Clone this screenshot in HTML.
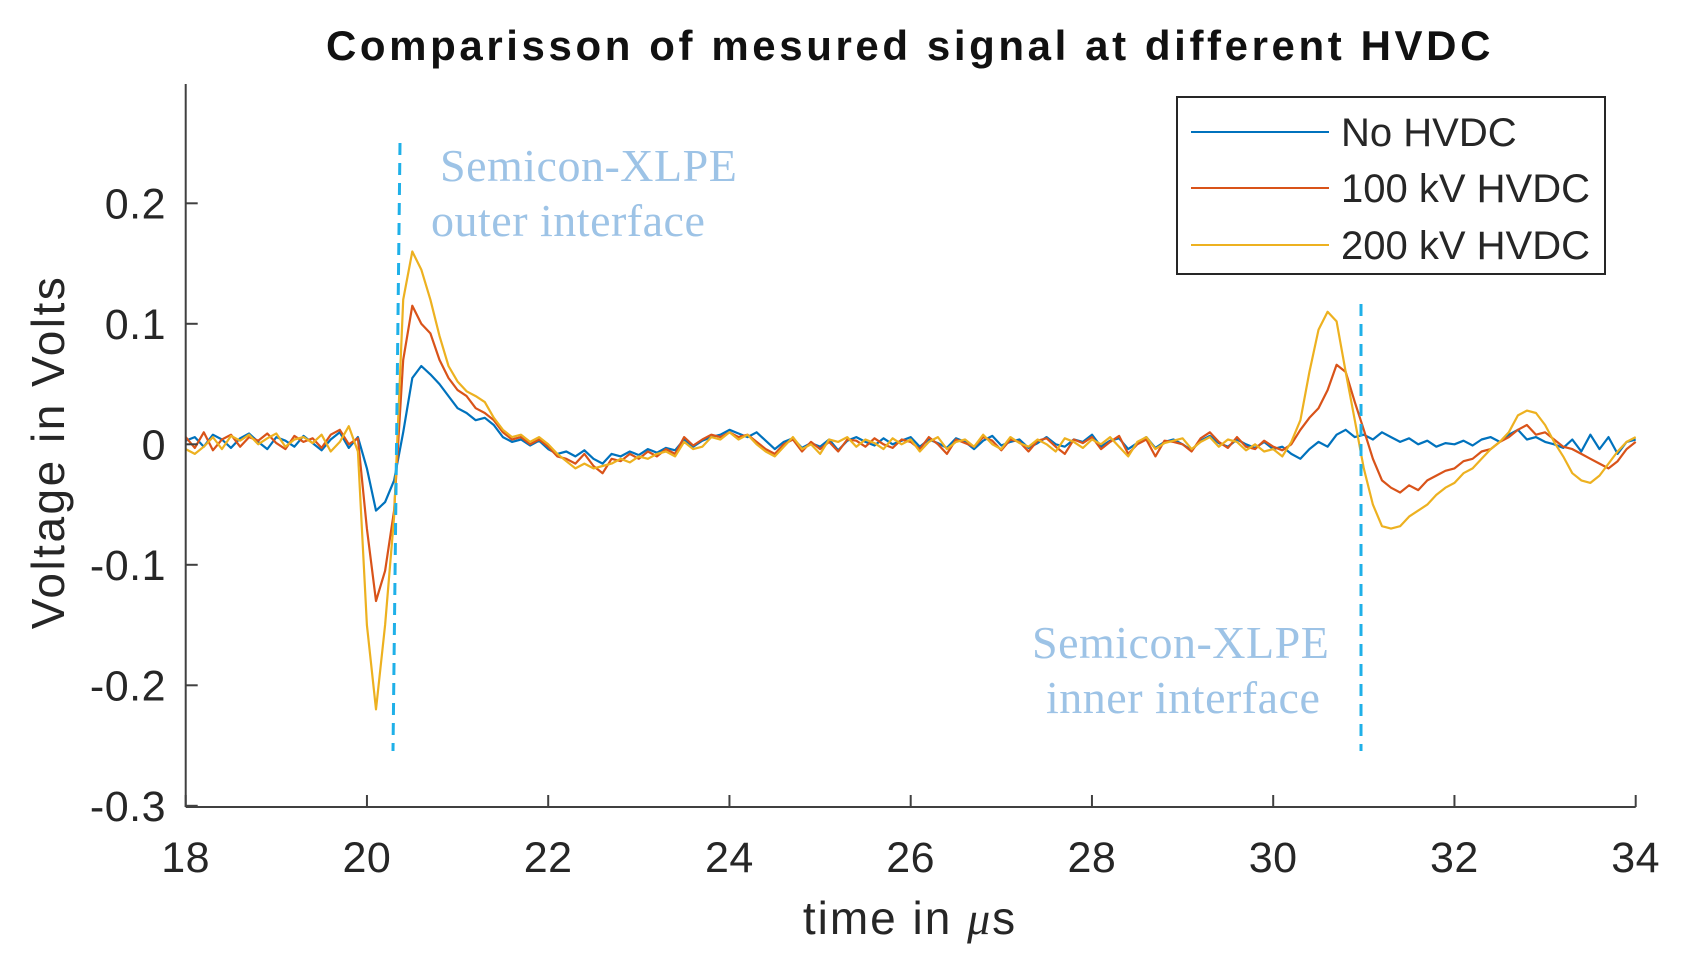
<!DOCTYPE html>
<html><head><meta charset="utf-8"><style>
html,body{margin:0;padding:0;background:#fff;}
svg{display:block;font-family:"Liberation Sans",Arial,sans-serif;}
</style></head><body>
<svg id="chart" width="1683" height="969" viewBox="0 0 1683 969" xmlns="http://www.w3.org/2000/svg">
<rect width="1683" height="969" fill="#fff"/>
<text x="910" y="60" text-anchor="middle" font-size="42" font-weight="bold" fill="#111" letter-spacing="3.6">Comparisson of mesured signal at different HVDC</text>
<g id="plot"></g>
<g id="axes"></g>
<text x="440" y="181" font-family="'Liberation Serif',serif" font-size="46" fill="#9dc3e6" letter-spacing="0.5">Semicon-XLPE</text>
<text x="431" y="236" font-family="'Liberation Serif',serif" font-size="46" fill="#9dc3e6" letter-spacing="0.5">outer interface</text>
<text x="1032" y="658" font-family="'Liberation Serif',serif" font-size="46" fill="#9dc3e6" letter-spacing="0.5">Semicon-XLPE</text>
<text x="1046" y="713" font-family="'Liberation Serif',serif" font-size="46" fill="#9dc3e6" letter-spacing="0.5">inner interface</text>
<line x1="400" y1="143" x2="393" y2="751" stroke="#1fb0e8" stroke-width="3" stroke-dasharray="12,8"/>
<line x1="1361" y1="304" x2="1361" y2="751" stroke="#1fb0e8" stroke-width="3" stroke-dasharray="12,8"/>
<g>
<rect x="1177" y="97" width="428" height="177" fill="#fff" stroke="#262626" stroke-width="2"/>
<line x1="1191" y1="132" x2="1329" y2="132" stroke="#0072BD" stroke-width="2"/>
<text x="1341" y="146" font-size="40" fill="#262626">No HVDC</text>
<line x1="1191" y1="188" x2="1329" y2="188" stroke="#D95319" stroke-width="2"/>
<text x="1341" y="202" font-size="40" fill="#262626">100 kV HVDC</text>
<line x1="1191" y1="245" x2="1329" y2="245" stroke="#EDB120" stroke-width="2"/>
<text x="1341" y="259" font-size="40" fill="#262626">200 kV HVDC</text>
</g>
</svg>
<script>
const xStart = 18, xStep = 0.1;
const xTicks = [18,20,22,24,26,28,30,32,34];
const yTicks = [-0.3,-0.2,-0.1,0,0.1,0.2];
const yTickLabels = ["-0.3","-0.2","-0.1","0","0.1","0.2"];
const seriesNames = ["No HVDC","100 kV HVDC","200 kV HVDC"];
const noHvdc = [0.003,0.006,-0.002,0.008,0.004,-0.003,0.005,0.009,0.002,-0.004,0.006,0.003,-0.002,0.007,0.001,-0.005,0.004,0.010,-0.003,0.006,
-0.020,-0.055,-0.048,-0.030,0.010,0.055,0.065,0.058,0.050,0.040,0.030,0.026,0.020,0.022,0.016,0.006,0.002,0.004,-0.001,0.003,
-0.004,-0.008,-0.006,-0.010,-0.005,-0.012,-0.016,-0.008,-0.010,-0.006,-0.009,-0.004,-0.007,-0.003,-0.005,0.004,-0.002,0.003,0.006,0.008,
0.012,0.009,0.006,0.010,0.003,-0.004,0.002,0.005,-0.003,0.001,-0.002,0.004,-0.005,0.003,0.006,0.002,-0.001,0.005,0.000,0.003,
0.006,-0.002,0.004,0.001,-0.003,0.005,0.002,-0.004,0.003,0.007,-0.001,0.002,0.004,-0.003,0.001,0.006,0.000,-0.002,0.004,0.002,
0.008,-0.002,0.003,0.005,-0.004,0.001,0.006,-0.003,0.002,0.004,0.000,-0.005,0.003,0.007,0.001,-0.002,0.004,0.000,-0.003,0.002,
-0.004,-0.002,-0.008,-0.012,-0.004,0.002,-0.002,0.008,0.012,0.006,0.008,0.004,0.010,0.006,0.002,0.005,0.000,0.003,-0.002,0.001,
0.000,0.003,-0.001,0.004,0.006,0.002,0.008,0.012,0.004,0.006,0.002,0.000,-0.003,0.004,-0.006,0.008,-0.004,0.006,-0.008,0.002,
0.004];
const hvdc100 = [0.006,-0.003,0.010,-0.005,0.004,0.008,-0.002,0.006,0.003,0.009,0.001,-0.004,0.007,0.002,0.005,-0.003,0.008,0.012,0.000,0.005,
-0.070,-0.130,-0.105,-0.055,0.070,0.115,0.100,0.092,0.070,0.055,0.045,0.040,0.030,0.026,0.020,0.010,0.004,0.006,0.000,0.004,
-0.002,-0.010,-0.012,-0.016,-0.008,-0.018,-0.024,-0.012,-0.014,-0.008,-0.012,-0.006,-0.010,-0.004,-0.008,0.006,-0.001,0.004,0.008,0.006,
0.010,0.006,0.008,0.002,-0.004,-0.008,0.000,0.004,-0.006,0.002,-0.004,0.002,-0.006,0.004,0.003,-0.002,0.005,0.000,-0.003,0.004,
0.002,-0.004,0.006,0.000,-0.008,0.004,0.001,-0.002,0.006,0.003,-0.005,0.004,0.002,-0.006,0.003,0.005,-0.002,-0.008,0.004,0.001,
0.006,-0.004,0.002,0.007,-0.008,0.000,0.004,-0.010,0.003,0.002,0.000,-0.006,0.005,0.010,0.002,-0.003,0.006,-0.002,-0.004,0.003,
-0.002,-0.005,0.000,0.012,0.022,0.030,0.045,0.066,0.060,0.035,0.012,-0.012,-0.030,-0.036,-0.040,-0.034,-0.038,-0.030,-0.026,-0.022,
-0.020,-0.014,-0.012,-0.006,-0.004,0.002,0.006,0.012,0.016,0.008,0.010,0.004,-0.002,-0.004,-0.008,-0.012,-0.016,-0.020,-0.014,-0.004,
0.002];
const hvdc200 = [-0.004,-0.008,-0.002,0.006,-0.004,0.007,0.003,0.008,0.000,0.005,0.009,-0.002,0.004,0.006,0.001,0.008,-0.006,0.002,0.015,-0.006,
-0.150,-0.220,-0.150,-0.060,0.120,0.160,0.145,0.120,0.090,0.065,0.052,0.044,0.040,0.035,0.022,0.012,0.006,0.008,0.002,0.006,
0.000,-0.008,-0.014,-0.020,-0.016,-0.020,-0.018,-0.016,-0.012,-0.015,-0.010,-0.012,-0.008,-0.006,-0.010,0.002,-0.004,-0.002,0.006,0.004,
0.010,0.004,0.008,0.000,-0.006,-0.010,-0.002,0.006,-0.004,0.000,-0.008,0.004,0.002,0.006,-0.002,0.004,0.001,-0.004,0.005,0.000,
0.004,-0.006,0.002,0.006,-0.004,0.002,0.004,-0.002,0.008,0.000,-0.004,0.006,0.001,-0.002,0.004,0.000,-0.006,0.005,0.002,-0.003,
0.004,0.000,0.006,-0.002,-0.010,0.002,0.006,-0.004,0.001,0.003,0.005,-0.004,0.002,0.006,-0.002,0.004,0.002,-0.005,0.000,-0.006,
-0.004,-0.010,0.002,0.020,0.060,0.095,0.110,0.102,0.060,0.020,-0.020,-0.050,-0.068,-0.070,-0.068,-0.060,-0.055,-0.050,-0.042,-0.036,
-0.032,-0.024,-0.020,-0.012,-0.004,0.002,0.010,0.024,0.028,0.026,0.016,0.002,-0.010,-0.024,-0.030,-0.032,-0.026,-0.016,-0.006,0.002,
0.006];

const NS = "http://www.w3.org/2000/svg";
const L = 185.7, R = 1635.7, B = 807, T = 84;
const xMin = 18, xMax = 34;
function xs(v){ return L + (v - xMin) / (xMax - xMin) * (R - L); }
function ys(v){ return 444.3 - v / 0.1 * 120.5; }

const plot = document.getElementById('plot');
const axes = document.getElementById('axes');
function drawSeries(arr, color, name){
  const p = document.createElementNS(NS, 'polyline');
  p.setAttribute('points', arr.map((v,i) => xs(xStart + i*xStep).toFixed(1) + ',' + ys(v).toFixed(1)).join(' '));
  p.setAttribute('fill', 'none');
  p.setAttribute('stroke', color);
  p.setAttribute('stroke-width', '2.2');
  p.setAttribute('stroke-linejoin', 'round');
  
  
  plot.appendChild(p);
}
drawSeries(noHvdc, '#0072BD', 'series-no-hvdc');
drawSeries(hvdc100, '#D95319', 'series-100kv-hvdc');
drawSeries(hvdc200, '#EDB120', 'series-200kv-hvdc');

function line(x1,y1,x2,y2,name){
  const l = document.createElementNS(NS,'line');
  l.setAttribute('x1',x1); l.setAttribute('y1',y1); l.setAttribute('x2',x2); l.setAttribute('y2',y2);
  l.setAttribute('stroke','#404040'); l.setAttribute('stroke-width','2');
  
  
  axes.appendChild(l);
}
function text(x,y,s,anchor,name,size,ls,extra){
  const t = document.createElementNS(NS,'text');
  t.setAttribute('x',x); t.setAttribute('y',y); t.setAttribute('text-anchor',anchor);
  t.setAttribute('font-size',size); t.setAttribute('fill','#262626');
  t.setAttribute('letter-spacing',ls);
  if (extra) t.setAttribute('transform', extra);
  t.textContent = s;
  
  
  axes.appendChild(t);
  return t;
}
line(L, T, L, B, 'y-axis-line');
line(L, B, R, B, 'x-axis-line');
xTicks.forEach(v => {
  line(xs(v), B, xs(v), B-12, 'x-tick');
  text(xs(v), 872, String(v), 'middle', 'x-tick-label', 43, 0.5);
});
yTicks.forEach((v,i) => {
  line(L, ys(v), L+12, ys(v), 'y-tick');
  text(166, ys(v)+15, yTickLabels[i], 'end', 'y-tick-label', 43, 0.5);
});
const xl = text(910, 934, 'time in ', 'middle', 'x-axis-title', 46, 2);
const mu = document.createElementNS(NS,'tspan');
mu.setAttribute('font-family','Liberation Serif, serif'); mu.setAttribute('font-style','italic');
mu.textContent = 'μ';
xl.appendChild(mu);
xl.appendChild(document.createTextNode('s'));
text(0, 0, 'Voltage in Volts', 'middle', 'y-axis-title', 46, 2.5, 'translate(64,452) rotate(-90)');
</script>
</body></html>
